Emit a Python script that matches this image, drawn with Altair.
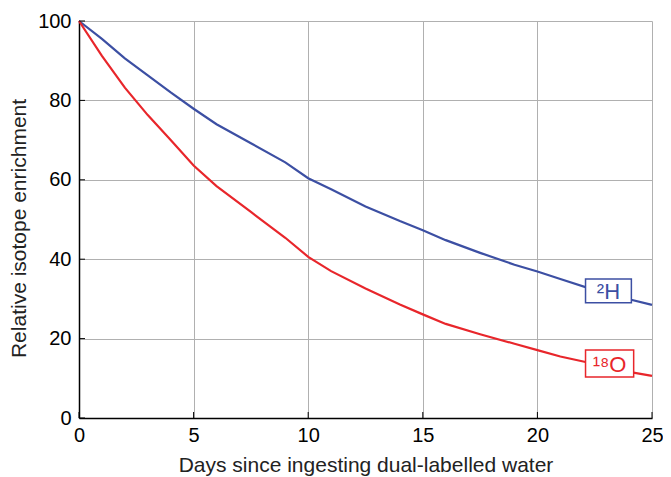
import altair as alt
import pandas as pd

days = [0, 1, 2, 3, 4, 5, 6, 7.5, 9, 10, 11, 12.5, 14, 15, 16, 17.5, 19, 20, 21, 22.5, 24, 25]
h2 = [100, 95.5, 90.6, 86.3, 82.0, 77.9, 74.0, 69.2, 64.4, 60.4, 57.6, 53.3, 49.6, 47.3, 44.8, 41.6, 38.6, 36.9, 35.0, 32.2, 29.9, 28.5]
o18 = [100, 91.2, 83.2, 76.3, 70.0, 63.6, 58.4, 51.9, 45.4, 40.6, 37.0, 32.6, 28.6, 26.1, 23.7, 21.1, 18.7, 17.1, 15.5, 13.6, 11.6, 10.6]

labels = ["²H", "¹⁸O"]
label_x = [23.1, 23.15]
label_y = [32.0, 13.7]
box_x1 = [22.1, 22.1]
box_x2 = [24.1, 24.2]
box_y1 = [29.0, 10.3]
box_y2 = [35.0, 17.1]
colors = ["#3c4fa3", "#e8262b"]

xticks = [0, 5, 10, 15, 20, 25]
yticks = [0, 20, 40, 60, 80, 100]

W, H = 573, 397
FONT = "Liberation Sans"
LS = 20
TS = 21

df = pd.DataFrame({
    "day": days * 2,
    "val": h2 + o18,
    "iso": [labels[0]] * len(days) + [labels[1]] * len(days),
})
lab = pd.DataFrame({"iso": labels, "lx": label_x, "ly": label_y,
                    "x1": box_x1, "x2": box_x2, "y1": box_y1, "y2": box_y2})

xs = alt.Scale(domain=[0, 25], nice=False)
ys = alt.Scale(domain=[0, 100], nice=False)
cs = alt.Scale(domain=labels, range=colors)

common = dict(tickSize=0, grid=True, labelFont=FONT, titleFont=FONT,
              labelFontSize=LS, titleFontSize=TS, labelColor="black", titleColor="#222222",
              titleFontWeight="normal", domainColor="black", domainWidth=1.5,
              gridColor="#b0b0b0", gridWidth=1, labelFlush=False)
xax = alt.Axis(values=xticks, title="Days since ingesting dual-labelled water",
               labelPadding=7, titlePadding=9, **common)
yax = alt.Axis(values=yticks, title="Relative isotope enrichment",
               labelPadding=8, titlePadding=8, titleY=207, **common)

lines = alt.Chart(df).mark_line(strokeWidth=2.2).encode(
    x=alt.X("day:Q", scale=xs, axis=xax),
    y=alt.Y("val:Q", scale=ys, axis=yax),
    color=alt.Color("iso:N", scale=cs, legend=None),
)

boxes = alt.Chart(lab).mark_rect(fill="white", strokeWidth=1.5).encode(
    x=alt.X("x1:Q", scale=xs), x2="x2:Q",
    y=alt.Y("y1:Q", scale=ys), y2="y2:Q",
    stroke=alt.Color("iso:N", scale=cs, legend=None),
)

texts = alt.Chart(lab).mark_text(fontSize=22, font=FONT, baseline="middle", align="center", dy=1).encode(
    x=alt.X("lx:Q", scale=xs),
    y=alt.Y("ly:Q", scale=ys),
    text="iso:N",
    color=alt.Color("iso:N", scale=cs, legend=None),
)

xt = alt.Chart(pd.DataFrame({"t": xticks})).mark_rule(color="black", strokeWidth=1).encode(
    x=alt.X("t:Q", scale=xs), y=alt.value(H), y2=alt.value(H - 6))
yt = alt.Chart(pd.DataFrame({"t": yticks})).mark_rule(color="black", strokeWidth=1).encode(
    y=alt.Y("t:Q", scale=ys), x=alt.value(0), x2=alt.value(6))

chart = alt.layer(lines, boxes, texts, xt, yt).properties(
    width=W, height=H,
    autosize=alt.AutoSizeParams(type="none"),
    padding={"left": 71, "top": 13, "right": 11, "bottom": 66},
    background="white",
).configure_view(stroke=None)

chart.save("out.html", embed_options={"renderer": "svg", "actions": False})
